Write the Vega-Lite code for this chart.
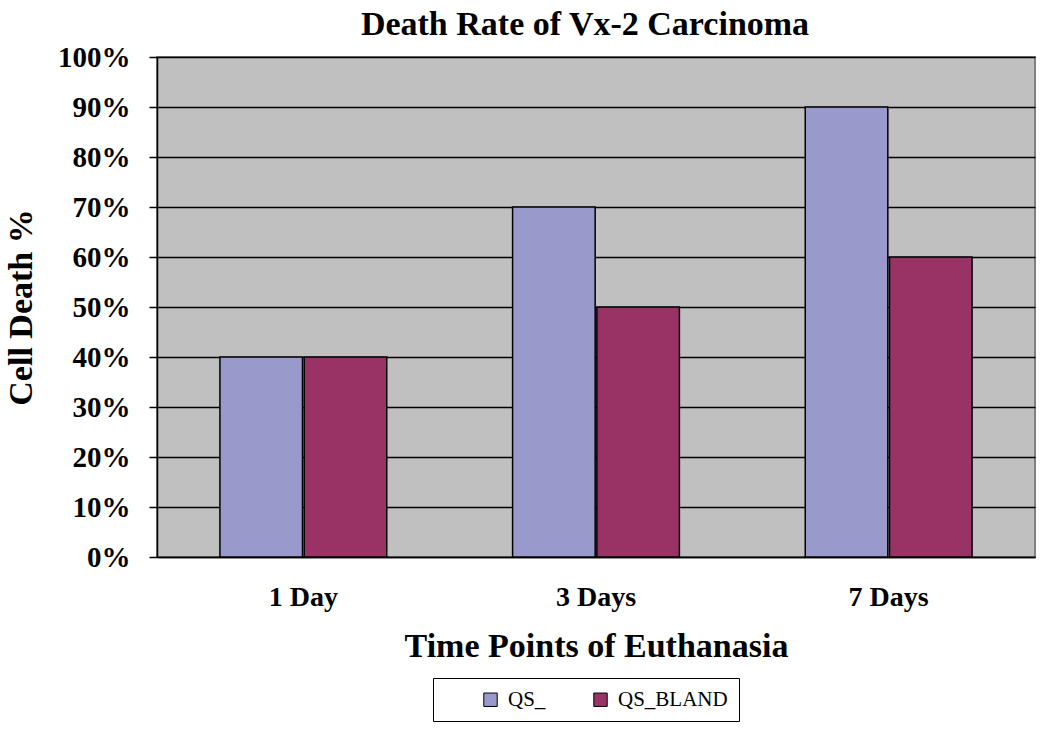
{
  "$schema": "https://vega.github.io/schema/vega-lite/v6.json",
  "autosize": {"type": "none"},
  "padding": {"left": 157, "top": 57, "right": 15, "bottom": 173},
  "width": 878,
  "height": 500,
  "background": "white",
  "title": {
    "text": "Death Rate of Vx-2 Carcinoma",
    "font": "Liberation Serif",
    "fontSize": 34,
    "fontWeight": "bold",
    "color": "black",
    "anchor": "middle",
    "dx": -11,
    "offset": 1
  },
  "config": {
    "view": {"fill": "#c0c0c0", "stroke": "#808080", "strokeWidth": 2},
    "font": "Liberation Serif"
  },
  "data": {
    "values": [
      {"time": "1 Day", "series": "QS_", "value": 40},
      {"time": "1 Day", "series": "QS_BLAND", "value": 40},
      {"time": "3 Days", "series": "QS_", "value": 70},
      {"time": "3 Days", "series": "QS_BLAND", "value": 50},
      {"time": "7 Days", "series": "QS_", "value": 90},
      {"time": "7 Days", "series": "QS_BLAND", "value": 60}
    ]
  },
  "mark": {"type": "bar", "stroke": "black", "strokeWidth": 1.5},
  "encoding": {
    "x": {
      "field": "time",
      "type": "nominal",
      "sort": ["1 Day", "3 Days", "7 Days"],
      "scale": {"paddingInner": 0.43, "paddingOuter": 0.215},
      "axis": {
        "title": "Time Points of Euthanasia",
        "titleFont": "Liberation Serif",
        "titleFontSize": 34,
        "titleFontWeight": "bold",
        "titleColor": "black",
        "titlePadding": 18,
        "labelFont": "Liberation Serif",
        "labelFontSize": 28,
        "labelFontWeight": "bold",
        "labelColor": "black",
        "labelAngle": 0,
        "labelPadding": 26,
        "ticks": false,
        "domainColor": "black",
        "domainWidth": 1.5
      }
    },
    "xOffset": {"field": "series", "type": "nominal", "sort": ["QS_", "QS_BLAND"], "scale": {"paddingInner": 0.02}},
    "y": {
      "field": "value",
      "type": "quantitative",
      "scale": {"domain": [0, 100]},
      "axis": {
        "title": "Cell Death %",
        "titleFont": "Liberation Serif",
        "titleFontSize": 34,
        "titleFontWeight": "bold",
        "titleColor": "black",
        "titlePadding": 19,
        "values": [0, 10, 20, 30, 40, 50, 60, 70, 80, 90, 100],
        "labelExpr": "datum.value + '%'",
        "labelFont": "Liberation Serif",
        "labelFontSize": 29,
        "labelFontWeight": "bold",
        "labelColor": "black",
        "labelPadding": 19,
        "tickSize": 8,
        "tickColor": "black",
        "tickWidth": 1.5,
        "domainColor": "black",
        "domainWidth": 1.5,
        "grid": true,
        "gridColor": "black",
        "gridWidth": 1.5,
        "gridOpacity": 1
      }
    },
    "color": {
      "field": "series",
      "type": "nominal",
      "scale": {"domain": ["QS_", "QS_BLAND"], "range": ["#9999CC", "#993366"]},
      "legend": {
        "title": null,
        "orient": "none",
        "legendX": 276,
        "legendY": 621,
        "direction": "horizontal",
        "columns": 2,
        "columnPadding": 8,
        "padding": 11,
        "fillColor": "white",
        "strokeColor": "black",
        "symbolType": "square",
        "symbolSize": 180,
        "symbolOffset": 36,
        "symbolStrokeColor": "black",
        "symbolStrokeWidth": 1,
        "symbolOpacity": 1,
        "labelFont": "Liberation Serif",
        "labelFontSize": 21,
        "labelColor": "black",
        "labelOffset": 7
      }
    }
  }
}
